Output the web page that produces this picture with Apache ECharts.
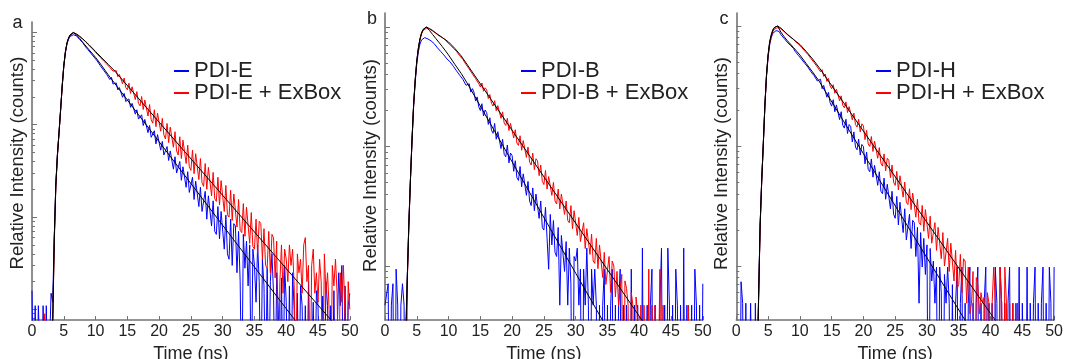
<!DOCTYPE html>
<html>
<head>
<meta charset="utf-8">
<script src="https://cdn.jsdelivr.net/npm/echarts@6/dist/echarts.min.js"></script>
<style>
html,body{margin:0;padding:0;background:#ffffff;}
#chart{width:1065px;height:359px;}
</style>
</head>
<body>
<div id="chart"></div>
<script>
// ---------------- DATA ----------------
// time bins (ns)
const timeNs = [0,0.25,0.5,0.75,1,1.25,1.5,1.75,2,2.25,2.5,2.75,3,3.25,3.5,3.75,4,4.25,4.5,4.75,5,5.25,5.5,5.75,6,6.25,6.5,6.75,7,7.25,7.5,7.75,8,8.25,8.5,8.75,9,9.25,9.5,9.75,10,10.25,10.5,10.75,11,11.25,11.5,11.75,12,12.25,12.5,12.75,13,13.25,13.5,13.75,14,14.25,14.5,14.75,15,15.25,15.5,15.75,16,16.25,16.5,16.75,17,17.25,17.5,17.75,18,18.25,18.5,18.75,19,19.25,19.5,19.75,20,20.25,20.5,20.75,21,21.25,21.5,21.75,22,22.25,22.5,22.75,23,23.25,23.5,23.75,24,24.25,24.5,24.75,25,25.25,25.5,25.75,26,26.25,26.5,26.75,27,27.25,27.5,27.75,28,28.25,28.5,28.75,29,29.25,29.5,29.75,30,30.25,30.5,30.75,31,31.25,31.5,31.75,32,32.25,32.5,32.75,33,33.25,33.5,33.75,34,34.25,34.5,34.75,35,35.25,35.5,35.75,36,36.25,36.5,36.75,37,37.25,37.5,37.75,38,38.25,38.5,38.75,39,39.25,39.5,39.75,40,40.25,40.5,40.75,41,41.25,41.5,41.75,42,42.25,42.5,42.75,43,43.25,43.5,43.75,44,44.25,44.5,44.75,45,45.25,45.5,45.75,46,46.25,46.5,46.75,47,47.25,47.5,47.75,48,48.25,48.5,48.75,49,49.25,49.5,49.75,50];

// Panel a: PDI-E (blue) and PDI-E + ExBox (red), relative counts
const blueA = [
16,1,11,1, 11,11,1,11, 1,11,1,1, 15,12,60,230, 480,820,1450,2600,
4250,6000,7450,8400, 9000,9350,9400,9250, 9150,8850,8350,8050, 7700,7200,7050,6550, 6450,5950,5900,5400,
5450,4900,4850,4350, 4450,3900,3950,3500, 3650,3080,3250,2750, 2650,2830,2380,2520, 2450,1980,2180,1780,
1700,1900,1540,1700, 1650,1300,1450,1150, 1100,1280,980,1140, 1120,820,980,730, 700,860,620,780,
750,530,660,470, 450,580,410,520, 520,330,450,300, 290,400,250,350, 350,210,310,185,
180,270,155,245, 240,130,210,115, 110,190,95,170, 165,80,150,70, 65,130,58,115,
120,45,105,40, 35,95,30,85, 80,25,70,20, 1,65,28,55, 18,50,1,45,
30,12,50,20, 1,35,18,1, 28,1,20,40, 15,1,25,10, 1,22,1,30,
12,1,18,1, 25,10,1,15, 1,18,11,1, 11,1,20,1, 1,12,1,16,
11,1,1,14, 1,20,11,1, 11,1,16,1, 1,25,11,30, 1,18,1,11,
15];
const redA = [
1,1,1,1, 1,1,1,1, 9,1,1,1, 1,6,50,210, 460,800,1420,2580,
4250,6050,7550,8550, 9250,9700,9800,9700, 9500,9300,8950,8750, 8400,8100,7850,7450, 7350,6900,6800,6350,
6300,5800,5850,5350, 5400,4900,5000,4550, 4650,4150,4300,3800, 3650,3850,3300,3500, 3500,2770,3200,2520,
2390,2810,2180,2570, 2500,1870,2280,1700, 1600,2020,1460,1850, 1810,1240,1650,1130, 1040,1450,950,1330,
1280,850,1170,775, 700,1030,640,940, 920,570,840,520, 470,740,430,680, 660,380,600,350,
320,530,295,485, 470,255,430,235, 215,380,200,345, 335,170,305,158, 148,270,135,248,
240,115,220,106, 100,195,92,178, 170,78,155,72, 68,140,62,128, 125,52,112,48,
45,95,40,90, 85,35,75,30, 28,70,25,65, 60,22,55,1, 20,50,15,45,
35,20,50,30, 45,18,1,40, 25,35,15,50, 60,20,30,1, 30,45,15,25,
12,35,20,1, 40,15,25,10, 1,30,18,35, 15,1,25,12, 30,8,1,20,
10];

// Panel b: PDI-B (blue) and PDI-B + ExBox (red)
const blueB = [
47,47,71,1, 47,71,1,94, 47,1,47,71, 47,1,80,230, 530,1100,2150,3450,
4900,6200,7200,7800, 8050,8150,8100,7950, 7800,7650,7400,7250, 7050,6700,6650,6250, 6200,5850,5800,5400,
5350,5100,4950,4700, 4600,4300,4250,3950, 3900,3650,3600,3250, 3250,3350,2850,3050, 2850,2400,2600,2150,
2000,2280,1800,2020, 1920,1530,1740,1370, 1290,1560,1150,1330, 1280,960,1150,860, 820,1030,730,880,
840,620,760,550, 520,680,460,590, 570,390,510,350, 320,450,290,400, 390,250,350,210,
200,310,170,94, 270,150,240,130, 120,210,47,180, 175,90,160,47, 141,71,1,120,
110,141,47,94, 1,94,47,141, 47,1,94,47, 94,47,1,47, 1,47,94,1,
47,1,47,94, 1,47,1,47, 94,1,47,1, 47,47,1,94, 1,47,1,47,
47,1,141,1, 1,47,1,47, 94,1,47,1, 1,47,141,1, 47,1,141,47,
1,47,1,94, 47,1,47,1, 141,1,47,1, 1,47,1,94, 47,1,47,1,
71];
const redB = [
1,1,1,1, 1,1,1,1, 1,1,1,1, 1,20,70,215, 520,1120,2200,3560,
5100,6550,7800,8750, 9350,9650,9750,9650, 9600,9450,9250,9050, 8850,8650,8450,8300, 8150,7850,7850,7500,
7500,7100,7100,6650, 6700,6250,6200,5750, 5850,5350,5350,4850, 4950,4450,4550,4050, 4200,3700,3820,3350,
3150,3400,2900,3100, 2980,2520,2720,2300, 2180,2420,1990,2200, 2130,1720,1950,1570, 1500,1720,1360,1560,
1510,1180,1380,1070, 1020,1230,930,1120, 1080,810,990,740, 700,880,640,790, 760,570,700,510,
480,630,440,560, 540,390,500,350, 330,440,300,400, 390,270,350,240, 230,320,205,290,
280,180,255,160, 155,230,140,205, 200,125,185,110, 105,170,95,150, 145,80,130,70,
70,120,60,110, 100,55,90,47, 47,85,1,75, 65,47,1,60, 47,1,55,40,
1,47,1,47, 47,1,94,1, 47,1,47,1, 1,94,1,47, 1,1,1,1,
1,1,1,1, 1,1,1,1, 1,1,1,47, 1,1,1,1, 1,1,1,1,
1];

// Panel c: PDI-H (blue) and PDI-H + ExBox (red)
const blueC = [
1,1,1,74, 49,1,49,1, 1,49,49,1, 49,1,55,220, 520,1040,2150,3800,
5500,6950,8000,8700, 9000,9150,9200,9000, 8500,8250,7900,7650, 7350,7100,6900,6650, 6500,6150,6050,5700,
5700,5300,5250,4900, 4950,4550,4550,4150, 4300,3850,3950,3480, 3350,3600,3000,3200, 3100,2550,2800,2300,
2150,2430,1930,2200, 2130,1660,1930,1490, 1410,1670,1270,1510, 1450,1080,1310,980, 930,1140,840,1030,
990,710,890,640, 610,780,550,690, 680,470,610,420, 400,540,360,480, 470,300,420,270,
250,380,220,340, 340,190,300,165, 160,270,140,240, 230,120,210,49, 190,98,170,85,
150,1,140,75, 110,49,98,1, 98,60,1,85, 49,98,49,1, 70,1,49,98,
1,49,98,1, 49,1,49,98, 1,49,1,49, 98,1,49,1, 49,98,1,49,
1,49,1,98, 49,1,98,49, 1,49,1,49, 98,1,49,1, 49,1,98,1,
49,49,1,98, 1,49,1,49, 98,1,49,1, 49,98,1,49, 1,98,49,1,
98];
const redC = [
1,1,1,1, 1,1,1,1, 1,1,1,1, 1,12,48,210, 505,1030,2150,3800,
5550,7100,8150,8950, 9400,9600,9700,9600, 9500,9300,9000,8800, 8500,8350,8080,7900, 7750,7450,7400,7100,
7150,6650,6650,6200, 6300,5800,5850,5350, 5500,4950,5050,4550, 4700,4150,4330,3800, 3980,3450,3660,3170,
3000,3240,2750,2970, 2860,2380,2620,2180, 2080,2330,1900,2130, 2050,1650,1880,1510, 1440,1670,1310,1530,
1470,1130,1350,1040, 990,1200,900,1100, 1060,790,970,720, 680,860,620,790, 760,545,695,500,
470,615,430,565, 545,375,500,340, 325,440,295,405, 395,255,360,230, 220,320,195,295,
285,170,260,155, 150,230,135,210, 210,115,190,100, 100,170,90,155, 150,75,135,65,
70,125,60,115, 110,49,98,40, 49,90,1,80, 70,40,60,49, 55,1,60,49,
1,49,98,49, 49,1,98,49, 1,98,49,1, 49,1,49,1, 1,49,1,1,
1,1,1,1, 1,1,1,1, 1,1,1,1, 1,1,1,1, 1,1,1,1,
1];

// Fitted decay curves (black), sampled at these times (ns)
const fitTimeNs = [3.25,3.5,3.75,4,4.25,4.5,4.75,5,5.25,5.5,5.75,6,6.25,6.5,7,7.5,8,9,10,11,12,13,20,30,40,50];
const fitBlueA = [7.0,57,223,472,815,1443,2624,4315,6120,7660,8670,9350,9820,9960,9350,8570,7760,6440,5350,4325,3460,2805,653,81.5,10.2,1.3];
const fitRedA  = [7.0,57,223,472,815,1443,2624,4315,6120,7660,8670,9350,9820,9960,9590,9075,8465,7295,6200,5270,4490,3820,1065,172,27.7,4.5];
const fitBlueB = [25,76,220,525,1133,2223,3600,5190,6670,7940,8910,9530,9870,10000,9350,8650,8010,6870,5830,4860,4080,3343,744,87,10.2,1.2];
const fitRedB  = [25,76,220,525,1133,2223,3600,5190,6670,7940,8910,9530,9870,10000,9710,9350,8910,8170,7490,6610,5720,4790,1366,228,38,6.3];
const fitBlueC = [12,52,220,521,1059,2197,3908,5730,7360,8410,9260,9720,9950,10000,8910,8180,7570,6620,5730,4870,4140,3490,863,117,15.9,2.2];
const fitRedC  = [12,52,220,521,1059,2197,3908,5730,7360,8410,9260,9720,9950,10000,9620,9080,8570,7720,7020,6140,5310,4530,1330,231,40.2,7.0];

// Legend names
const namesA = ['PDI-E', 'PDI-E + ExBox'];
const namesB = ['PDI-B', 'PDI-B + ExBox'];
const namesC = ['PDI-H', 'PDI-H + ExBox'];

// Axis ticks
const xTickLabels = [0,5,10,15,20,25,30,35,40,45,50];
const majorTicksA = [10,100,1000,10000];
const minorTicksA = [8,9,20,30,40,50,60,70,80,90,200,300,400,500,600,700,800,900,2000,3000,4000,5000,6000,7000,8000,9000];
const majorTicksBC = [100,1000,10000];
const minorTicksBC = [40,50,60,70,80,90,200,300,400,500,600,700,800,900,2000,3000,4000,5000,6000,7000,8000,9000];

// ---------------- CHECK ----------------
const lens = {blueA, redA, blueB, redB, blueC, redC};
for (const k in lens) { if (lens[k].length !== timeNs.length) throw new Error(k + ' length ' + lens[k].length); }
const flens = {fitBlueA, fitRedA, fitBlueB, fitRedB, fitBlueC, fitRedC};
for (const k in flens) { if (flens[k].length !== fitTimeNs.length) throw new Error(k + ' length ' + flens[k].length); }

// ---------------- LAYOUT / STYLE ----------------
const FONT = '"Liberation Sans", Arial, Helvetica, sans-serif';
const AXIS_COLOR = '#737373';
const TEXT_COLOR = '#222222';
const BLUE = '#0000ff';
const RED = '#ff0000';

const panels = [
  { letter: 'a', names: namesA, blue: blueA, red: redA, blueFit: fitBlueA, redFit: fitRedA,
    left: 32, top: 22, yMin: 7.7, yMax: 12920, major: majorTicksA, minor: minorTicksA,
    legendLeft: 174, letterLeft: 12.5, letterTop: 14, yNamePad: [0, 0, 0, 16] },
  { letter: 'b', names: namesB, blue: blueB, red: redB, blueFit: fitBlueB, redFit: fitRedB,
    left: 385, top: 13, yMin: 35.3, yMax: 13100, major: majorTicksBC, minor: minorTicksBC,
    legendLeft: 521, letterLeft: 367, letterTop: 10.5, yNamePad: [0, 0, 0, 2] },
  { letter: 'c', names: namesC, blue: blueC, red: redC, blueFit: fitBlueC, redFit: fitRedC,
    left: 736.3, top: 13, yMin: 35.5, yMax: 12830, major: majorTicksBC, minor: minorTicksBC,
    legendLeft: 876, letterLeft: 719.5, letterTop: 10.5, yNamePad: [0, 0, 0, 6] }
];
const GRID_W = 317.8;
const GRID_BOTTOM = 320;

const option = {
  animation: false,
  backgroundColor: '#ffffff',
  textStyle: { fontFamily: FONT },
  title: panels.map(p => ({
    text: p.letter, left: p.letterLeft, top: p.letterTop, padding: 0,
    textStyle: { fontSize: 18, fontWeight: 'normal', color: TEXT_COLOR, fontFamily: FONT }
  })),
  legend: panels.map(p => ({
    data: p.names, orient: 'vertical', left: p.legendLeft, top: 60, padding: 0,
    icon: 'rect', itemWidth: 15, itemHeight: 2, itemGap: 0, selectedMode: false,
    textStyle: { fontSize: 22, color: TEXT_COLOR, fontFamily: FONT, lineHeight: 19.5 }
  })),
  grid: panels.map(p => ({
    left: p.left, top: p.top, width: GRID_W, height: GRID_BOTTOM - p.top,
    containLabel: false, outerBoundsMode: 'none'
  })),
  xAxis: panels.map((p, i) => ({
    type: 'value', gridIndex: i, min: 0, max: 50, interval: 5, position: 'bottom',
    name: 'Time (ns)', nameLocation: 'middle', nameGap: 20,
    nameTextStyle: { fontSize: 18, color: TEXT_COLOR, fontFamily: FONT },
    axisLine: { show: true, lineStyle: { color: AXIS_COLOR, width: 1.6 } },
    axisTick: { show: true, inside: true, length: 4, customValues: xTickLabels, lineStyle: { color: AXIS_COLOR, width: 1 } },
    axisLabel: { show: true, fontSize: 16, color: TEXT_COLOR, fontFamily: FONT, margin: 4, customValues: xTickLabels },
    splitLine: { show: false }
  })),
  yAxis: [].concat(...panels.map((p, i) => ([
    {
      type: 'log', logBase: 10, gridIndex: i, min: p.yMin, max: p.yMax, position: 'left', offset: 0,
      name: 'Relative Intensity (counts)', nameLocation: 'middle', nameGap: 5,
      nameTextStyle: { fontSize: 18.5, color: TEXT_COLOR, fontFamily: FONT, padding: p.yNamePad },
      axisLine: { show: true, lineStyle: { color: AXIS_COLOR, width: 1.6 } },
      axisTick: { show: true, inside: true, length: 5, customValues: p.major, lineStyle: { color: AXIS_COLOR, width: 1 } },
      axisLabel: { show: false },
      splitLine: { show: false }
    },
    {
      type: 'log', logBase: 10, gridIndex: i, min: p.yMin, max: p.yMax, position: 'left', offset: 0,
      axisLine: { show: false },
      axisTick: { show: true, inside: true, length: 3, customValues: p.minor, lineStyle: { color: AXIS_COLOR, width: 1 } },
      axisLabel: { show: false },
      splitLine: { show: false }
    }
  ]))),
  series: [].concat(...panels.map((p, i) => {
    const base = { type: 'line', xAxisIndex: i, yAxisIndex: 2 * i, showSymbol: false, symbol: 'none',
                   silent: true, clip: true, emphasis: { disabled: true } };
    return [
      Object.assign({}, base, { name: p.names[0], color: BLUE, lineStyle: { color: BLUE, width: 1 },
        data: timeNs.map((t, k) => [t, p.blue[k]]) }),
      Object.assign({}, base, { name: p.names[1], color: RED, lineStyle: { color: RED, width: 1 },
        data: timeNs.map((t, k) => [t, p.red[k]]) }),
      Object.assign({}, base, { name: p.names[0] + ' fit', color: '#000000', lineStyle: { color: '#000000', width: 1 },
        data: fitTimeNs.map((t, k) => [t, p.blueFit[k]]) }),
      Object.assign({}, base, { name: p.names[1] + ' fit', color: '#000000', lineStyle: { color: '#000000', width: 1 },
        data: fitTimeNs.map((t, k) => [t, p.redFit[k]]) })
    ];
  }))
};

const chart = echarts.init(document.getElementById('chart'), null, { renderer: 'canvas' });
chart.setOption(option);
</script>
</body>
</html>
